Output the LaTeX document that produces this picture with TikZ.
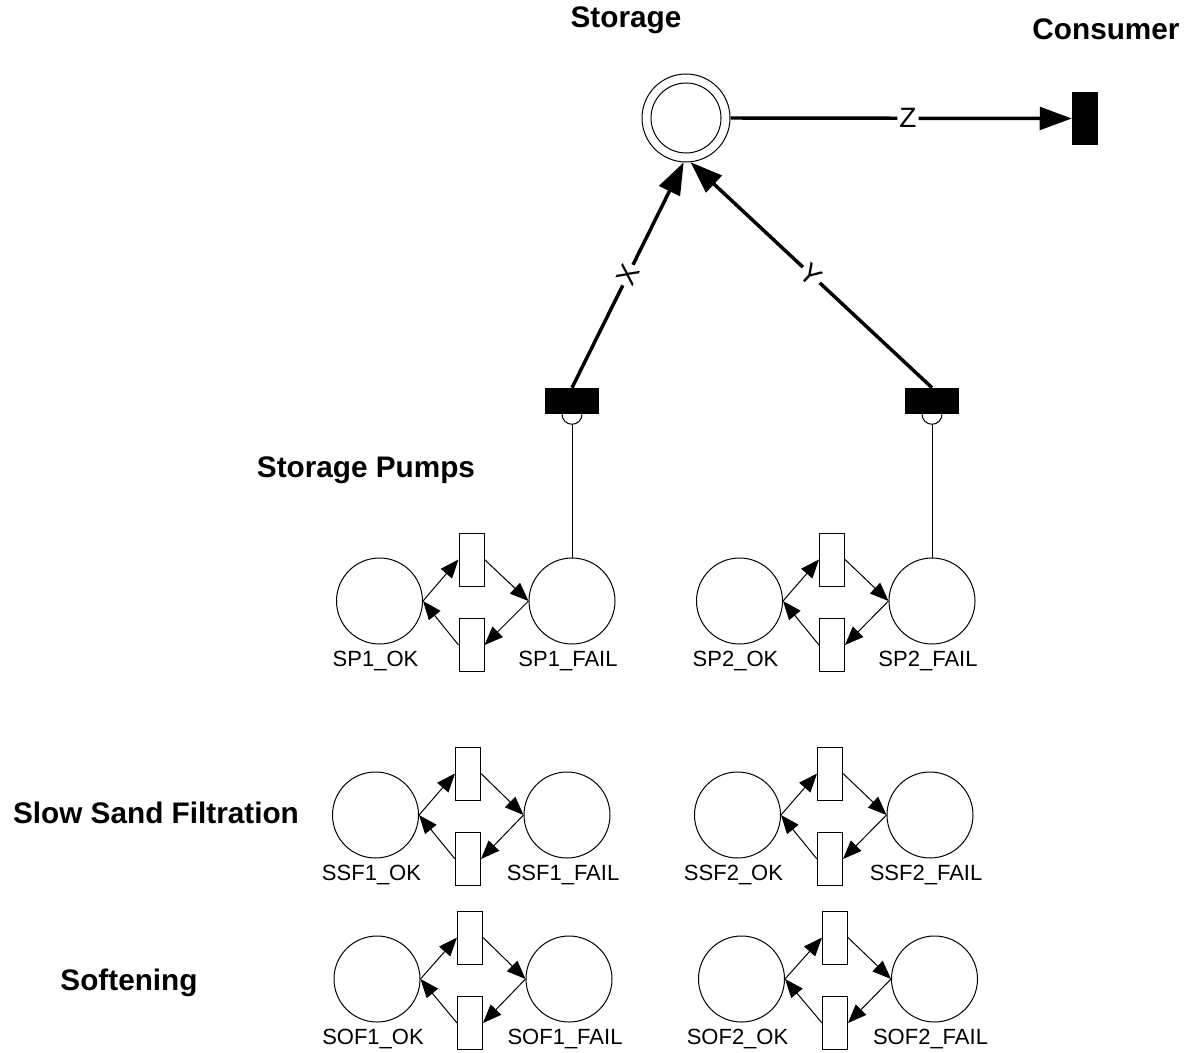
\documentclass[tikz,border=0pt]{standalone}
\usepackage{fontspec}
\setmainfont{Liberation Sans}
\usetikzlibrary{arrows.meta,calc}
\newcommand{\pnmodule}[7]{%
  \node[place] (#1o) at (#2,#5) {};
  \node[place] (#1f) at (#4,#5) {};
  \node[trans] (#1u) at (#3,#5-41.5) {};
  \node[trans] (#1l) at (#3,#5+44) {};
  \draw[arc] (#1o.east) -- (#1u.west);
  \draw[arc] (#1u.east) -- (#1f.west);
  \draw[arc] (#1f.west) -- (#1l.east);
  \draw[arc] (#1l.west) -- (#1o.east);
  \node[lab] (#1ol) at (#2-4,#5+60) {#6};
  \node[lab] (#1fl) at (#4-4,#5+60) {#7};
}
\begin{document}
\begin{tikzpicture}[x=0.75pt,y=-0.75pt,
 place/.style={circle,draw,line width=0.75pt,minimum size=64.5pt,inner sep=0pt},
 trans/.style={rectangle,draw,line width=0.75pt,minimum width=18.75pt,minimum height=39.75pt,inner sep=0pt},
 btransv/.style={rectangle,fill=black,minimum width=19.5pt,minimum height=39.75pt,inner sep=0pt},
 btransh/.style={rectangle,fill=black,minimum width=40.5pt,minimum height=19.5pt,inner sep=0pt},
 arc/.style={line width=0.75pt,-{Triangle[length=14pt,width=11pt]}},
 thickarc/.style={line width=2.6pt,-{Triangle[length=24pt,width=17pt]}},
 lab/.style={font=\fontsize{16.5}{19}\selectfont,inner sep=0pt},
 title/.style={font=\fontsize{22.3}{26}\selectfont\bfseries,inner sep=0pt},
 elab/.style={font=\fontsize{21}{24}\selectfont,fill=white,inner sep=1.5pt,sloped}
]
\useasboundingbox (0,0) rectangle (1187,1052);

% titles
\node[title] (tstorage) at (626,20) {Storage};
\node[title] (tconsumer) at (1106,29) {Consumer};
\node[title] (tpumps) at (366,470) {Storage Pumps};
\node[title] (tssf) at (156,813) {Slow Sand Filtration};
\node[title] (tsof) at (129,983) {Softening};

% storage and consumer
\node[place,minimum size=66pt] (storage) at (686,118) {};
\node[circle,draw,line width=0.75pt,minimum size=52.5pt,inner sep=0pt] (storagein) at (storage) {};
\node[btransv] (consumer) at (1085,118.5) {};
\draw[thickarc] (storage.east) -- node[elab,pos=0.52] {Z} (consumer.west);

% pumps
\node[btransh] (pump1) at (572,401) {};
\node[btransh] (pump2) at (932,401) {};
\draw[thickarc] (pump1.north) -- node[elab] {X} (storage.-93);
\draw[thickarc] (pump2.north) -- node[elab] {Y} (storage.-84);

% modules
\pnmodule{spa}{379.5}{471.5}{572}{601}{SP1\_OK}{SP1\_FAIL}
\pnmodule{spb}{739.5}{832}{932}{601}{SP2\_OK}{SP2\_FAIL}
\pnmodule{ssfa}{375.5}{468}{567}{815}{SSF1\_OK}{SSF1\_FAIL}
\pnmodule{ssfb}{737.5}{830}{930}{815}{SSF2\_OK}{SSF2\_FAIL}
\pnmodule{sofa}{377}{470}{569}{979}{SOF1\_OK}{SOF1\_FAIL}
\pnmodule{sofb}{741.5}{835}{934.5}{979}{SOF2\_OK}{SOF2\_FAIL}

% inhibitor-style test arcs
\draw[line width=0.75pt] (pump1.south) ++(-7.5pt,0) arc[start angle=180,end angle=360,radius=7.5pt];
\draw[line width=0.75pt] (pump2.south) ++(-7.5pt,0) arc[start angle=180,end angle=360,radius=7.5pt];
\coordinate (inh1) at ([yshift=-7.5pt]pump1.south);
\coordinate (inh2) at ([yshift=-7.5pt]pump2.south);
\draw[line width=0.75pt] (inh1) -- (spaf.north);
\draw[line width=0.75pt] (inh2) -- (spbf.north);
\end{tikzpicture}
\end{document}
